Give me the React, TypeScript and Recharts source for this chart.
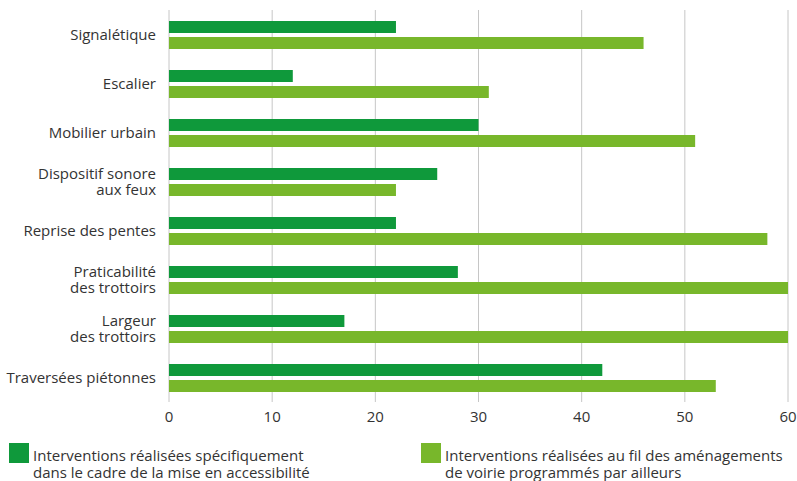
import { BarChart, Bar, XAxis, YAxis, CartesianGrid } from "recharts";

const categories = [
  "Signalétique",
  "Escalier",
  "Mobilier urbain",
  "Dispositif sonore\naux feux",
  "Reprise des pentes",
  "Praticabilité\ndes trottoirs",
  "Largeur\ndes trottoirs",
  "Traversées piétonnes",
];
const specifiques = [22, 12, 30, 26, 22, 28, 17, 42];
const auFilDesAmenagements = [46, 31, 51, 22, 58, 60, 60, 53];
const xTicks = [0, 10, 20, 30, 40, 50, 60];

const seriesNames = [
  "Interventions réalisées spécifiquement\ndans le cadre de la mise en accessibilité",
  "Interventions réalisées au fil des aménagements\nde voirie programmés par ailleurs",
];

const DARK = "#0f993b";
const LIGHT = "#78b72b";
const TEXT = "#333333";
const FONT = "'Open Sans', sans-serif";

const data = categories.map((name, i) => ({
  name,
  specifiques: specifiques[i],
  ailleurs: auFilDesAmenagements[i],
}));

// category label, split on "\n" and centred vertically on the band
function CategoryTick({ x, y, payload }: any) {
  const lines = String(payload.value).split("\n");
  const lh = 16;
  return (
    <text
      x={x}
      y={y}
      textAnchor="end"
      fill={TEXT}
      fontSize={15}
      fontFamily={FONT}
    >
      {lines.map((l, i) => (
        <tspan
          key={i}
          x={x}
          dy={i === 0 ? -((lines.length - 1) * lh) / 2 + 5 : lh}
        >
          {l}
        </tspan>
      ))}
    </text>
  );
}

function LegendItem({ color, label, left }: { color: string; label: string; left: number }) {
  return (
    <div style={{ position: "absolute", left, top: 0, display: "flex" }}>
      <div style={{ width: 20, height: 20, background: color, marginTop: 7 }} />
      <div
        style={{
          marginLeft: 4,
          marginTop: 11,
          fontFamily: FONT,
          fontSize: 15,
          lineHeight: "17px",
          color: TEXT,
          whiteSpace: "pre",
        }}
      >
        {label}
      </div>
    </div>
  );
}

export default function App() {
  return (
    <div style={{ position: "absolute", left: 0, top: 0, width: 797, height: 481, background: "#fff" }}>
      <BarChart
        width={797}
        height={436}
        data={data}
        layout="vertical"
        margin={{ top: 10, right: 9, bottom: 0, left: 0 }}
        barSize={12}
        barGap={4}
      >
        <CartesianGrid horizontal={false} stroke="#c6c6c6" />
        <XAxis
          type="number"
          domain={[0, 60]}
          ticks={xTicks}
          axisLine={false}
          tickLine={false}
          tickSize={0}
          tickMargin={9}
          height={34}
          tick={{ fill: TEXT, fontSize: 15, fontFamily: FONT }}
        />
        <YAxis
          type="category"
          dataKey="name"
          width={169}
          axisLine={false}
          tickLine={false}
          tickSize={0}
          tickMargin={13}
          tick={<CategoryTick />}
          interval={0}
        />
        <Bar dataKey="specifiques" fill={DARK} isAnimationActive={false} />
        <Bar dataKey="ailleurs" fill={LIGHT} isAnimationActive={false} />
      </BarChart>
      <div style={{ position: "absolute", left: 0, top: 436, width: 797, height: 45 }}>
        <LegendItem color={DARK} label={seriesNames[0]} left={9} />
        <LegendItem color={LIGHT} label={seriesNames[1]} left={421} />
      </div>
    </div>
  );
}
